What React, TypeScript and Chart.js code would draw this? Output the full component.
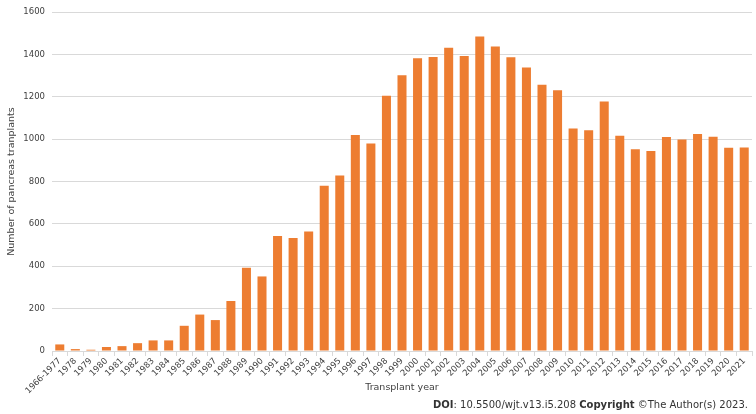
import React, { useEffect, useRef } from "react";
import { Chart, registerables } from "chart.js";

Chart.register(...registerables);

const categories: string[] = [
  "1966-1977", "1978", "1979", "1980", "1981", "1982", "1983", "1984", "1985", "1986",
  "1987", "1988", "1989", "1990", "1991", "1992", "1993", "1994", "1995", "1996",
  "1997", "1998", "1999", "2000", "2001", "2002", "2003", "2004", "2005", "2006",
  "2007", "2008", "2009", "2010", "2011", "2012", "2013", "2014", "2015", "2016",
  "2017", "2018", "2019", "2020", "2021",
];

const transplants: number[] = [
  31, 9, 6, 19, 23, 37, 50, 50, 119, 172,
  146, 236, 393, 352, 543, 534, 564, 780, 829, 1020,
  980, 1205, 1302, 1382, 1388, 1432, 1393, 1485, 1438, 1387,
  1338, 1257, 1231, 1050, 1042, 1178, 1016, 952, 944, 1010,
  999, 1025, 1011, 960, 961,
];

const yTicks: number[] = [0, 200, 400, 600, 800, 1000, 1200, 1400, 1600];

const xTitle = "Transplant year";
const yTitle = "Number of pancreas tranplants";

const FONT = "'DejaVu Sans', Verdana, sans-serif";

const doiPlugin = {
  id: "doiText",
  afterDraw(chart: any) {
    const ctx = chart.ctx;
    ctx.save();
    ctx.textBaseline = "middle";
    ctx.fillStyle = "#333333";
    const parts: [string, boolean][] = [
      ["DOI", true],
      [": 10.5500/wjt.v13.i5.208 ", false],
      ["Copyright", true],
      [" \u00A9The Author(s) 2023.", false],
    ];
    const size = 10;
    let total = 0;
    const widths: number[] = [];
    for (const [t, b] of parts) {
      ctx.font = `${b ? "bold " : ""}${size}px ${FONT}`;
      const w = ctx.measureText(t).width;
      widths.push(w);
      total += w;
    }
    let x = 748 - total;
    const y = 405;
    parts.forEach(([t, b], i) => {
      ctx.font = `${b ? "bold " : ""}${size}px ${FONT}`;
      ctx.textAlign = "left";
      ctx.fillText(t, x, y);
      x += widths[i];
    });
    ctx.restore();
  },
};

export default function App() {
  const ref = useRef<HTMLCanvasElement | null>(null);

  useEffect(() => {
    document.body.style.margin = "0";
    const canvas = ref.current;
    if (!canvas) return;
    const chart = new Chart(canvas, {
      type: "bar",
      data: {
        labels: categories,
        datasets: [
          {
            label: "Pancreas transplants",
            data: transplants,
            backgroundColor: "#ED7D31",
            borderWidth: 0,
            categoryPercentage: 1,
            barPercentage: 0.58,
          },
        ],
      },
      options: {
        animation: false,
        responsive: false,
        maintainAspectRatio: false,
        layout: { padding: { left: 0, right: 4, top: 5, bottom: 17 } },
        plugins: {
          legend: { display: false },
          tooltip: { enabled: false },
        },
        scales: {
          x: {
            offset: true,
            afterFit(scale: any) {
              scale.height = 46;
            },
            grid: {
              display: true,
              drawOnChartArea: false,
              drawTicks: true,
              tickLength: 5,
              offset: true,
              color: "#d9d9d9",
            },
            border: { display: true, color: "#d9d9d9" },
            ticks: {
              autoSkip: false,
              minRotation: 45,
              maxRotation: 45,
              color: "#404040",
              padding: 0,
              font: { family: FONT, size: 8.5 },
            },
            title: {
              display: true,
              text: xTitle,
              color: "#404040",
              font: { family: FONT, size: 9.5 },
              padding: { top: 0, bottom: 4 },
            },
          },
          y: {
            min: 0,
            max: 1600,
            afterBuildTicks(scale: any) {
              scale.ticks = yTicks.map((v) => ({ value: v }));
            },
            afterFit(scale: any) {
              scale.width = 52;
            },
            grid: {
              color: "#d9d9d9",
              drawTicks: false,
            },
            border: { display: false },
            ticks: {
              color: "#404040",
              padding: 7,
              font: { family: FONT, size: 8.5 },
              callback: (v: any) => String(v),
            },
            title: {
              display: true,
              text: yTitle,
              color: "#404040",
              font: { family: FONT, size: 9.5 },
              padding: { top: 6, bottom: 0 },
            },
          },
        },
      },
      plugins: [doiPlugin],
    });
    return () => chart.destroy();
  }, []);

  return (
    <div style={{ width: 756, height: 414, position: "relative", background: "#fff" }}>
      <canvas ref={ref} width={756} height={414} style={{ display: "block" }} />
    </div>
  );
}
